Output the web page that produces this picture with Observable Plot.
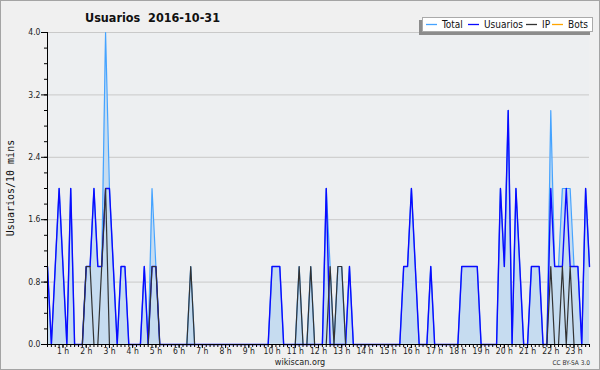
<!DOCTYPE html>
<html><head><meta charset="utf-8">
<script src="https://cdn.jsdelivr.net/npm/d3@7"></script>
<script src="https://cdn.jsdelivr.net/npm/@observablehq/plot@0.6"></script>
<style>
body{margin:0;background:#fff;}
#wrap{position:relative;width:600px;height:370px;background:#f0f0f0;overflow:hidden;}
#wrap svg{position:absolute;left:0;top:0;}
#border{position:absolute;left:0;top:0;width:600px;height:370px;box-sizing:border-box;border:1px solid #a4a4a4;pointer-events:none;}
</style>
</head><body>
<div id="wrap"><div id="plot"></div><div id="border"></div></div>
<script>
// 10-minute buckets (index 0 = 00:20 ... index 140 = 23:40)
const usuarios = [
 1,0,1,2,1,0,2,0,0,0,
 1,1,2,1,1,2,2,1,0,1,
 1,0,0,0,0,1,0,1,1,0,
 0,0,0,0,0,0,0,0,0,0,
 0,0,0,0,0,0,0,0,0,0,
 0,0,0,0,0,0,0,0,1,1,
 1,0,0,0,0,0,0,0,0,0,
 0,0,2,0,0,0,0,0,1,0,
 0,0,0,0,0,0,0,0,0,0,
 0,0,1,1,2,1,0,0,0,1,
 0,0,0,0,0,0,0,1,1,1,
 1,1,0,0,0,0,0,2,1,3,
 0,2,1,0,0,1,1,1,0,0,
 2,1,1,1,2,1,1,1,0,2,
 1];
const total = [
 1,0,1,2,1,0,2,0,0,0,
 1,1,2,1,1,4,2,1,0,1,
 1,0,0,0,0,1,0,2,1,0,
 0,0,0,0,0,0,0,1,0,0,
 0,0,0,0,0,0,0,0,0,0,
 0,0,0,0,0,0,0,0,1,1,
 1,0,0,0,0,1,0,0,1,0,
 0,0,2,1,0,1,1,0,1,0,
 0,0,0,0,0,0,0,0,0,0,
 0,0,1,1,2,1,0,0,0,1,
 0,0,0,0,0,0,0,1,1,1,
 1,1,0,0,0,0,0,2,1,3,
 0,2,1,0,0,1,1,1,0,0,
 3,1,1,2,2,2,1,1,0,2,
 1];
const ip = [
 0,0,0,0,0,0,0,0,0,0,
 1,1,0,0,1,2,0,0,0,0,
 0,0,0,0,0,0,0,1,1,0,
 0,0,0,0,0,0,0,1,0,0,
 0,0,0,0,0,0,0,0,0,0,
 0,0,0,0,0,0,0,0,0,0,
 0,0,0,0,0,1,0,0,1,0,
 0,0,0,1,0,1,1,0,0,0,
 0,0,0,0,0,0,0,0,0,0,
 0,0,0,0,0,0,0,0,0,0,
 0,0,0,0,0,0,0,0,0,0,
 0,0,0,0,0,0,0,0,0,0,
 0,0,0,0,0,0,0,0,0,0,
 1,0,0,1,0,1,0,0,0,0,
 0];
const hourLabels = ["1 h","2 h","3 h","4 h","5 h","6 h","7 h","8 h","9 h","10 h","11 h","12 h",
  "13 h","14 h","15 h","16 h","17 h","18 h","19 h","20 h","21 h","22 h","23 h"];
const yTicks = [0, 0.8, 1.6, 2.4, 3.2, 4.0];
const legendNames = ["Total","Usuarios","IP","Bots"];
const legendColors = ["#45a3ff","#0a0aff","#333333","#ffa500"];
const titleText = "Usuarios\u00a0\u00a02016-10-31";
const yLabel = "Usuarios/10 mins";

const rows = total.map((t, i) => ({i, total: t, usuarios: usuarios[i], ip: ip[i]}));
const hourIdx = hourLabels.map((_, k) => 6 * (k + 1) - 2);
const yMinor = d3.range(0, 4.001, 0.2);

const chart = Plot.plot({
  width: 600, height: 370,
  marginLeft: 47, marginRight: 11, marginTop: 32, marginBottom: 26,
  style: {background: "transparent", fontFamily: "'DejaVu Sans Condensed','DejaVu Sans',sans-serif", fontSize: "8.5px", color: "#222", overflow: "visible"},
  x: {domain: [0, 140], axis: null, label: null},
  y: {domain: [0, 4], axis: null, label: null},
  marks: [
    Plot.frame({fill: "#edeff1", stroke: null}),
    Plot.gridY(yTicks, {stroke: "#c9c9c9", strokeOpacity: 1}),
    Plot.areaY(rows, {x: "i", y: "total", fill: "#c6dcf0"}),
    Plot.lineY(rows, {x: "i", y: "total", stroke: legendColors[0], strokeWidth: 1.2}),
    Plot.lineY(rows, {x: "i", y: "usuarios", stroke: legendColors[1], strokeWidth: 1.4}),
    Plot.lineY(rows, {x: "i", y: "ip", stroke: legendColors[2], strokeWidth: 1.2}),
    Plot.ruleX([0], {stroke: "#000"}),
    Plot.ruleY([0], {stroke: "#000"}),
    Plot.axisY(yMinor, {tickSize: 3, tickFormat: () => "", stroke: "#000", label: null}),
    Plot.axisY(yTicks, {tickSize: 6, tickPadding: 1, tickFormat: d3.format(".1f"), stroke: "#000", label: null}),
    Plot.axisX(d3.range(0, 141), {tickSize: 3, tickFormat: () => "", stroke: "#000", label: null}),
    Plot.axisX(hourIdx, {tickSize: 4, tickPadding: -1, stroke: "#000", label: null,
      tickFormat: d => hourLabels[(d + 2) / 6 - 1]})
  ]
});
document.getElementById("plot").appendChild(chart);

// overlay texts and legend
const ov = d3.select("#wrap").append("svg").attr("width", 600).attr("height", 370)
  .style("font-family", "'DejaVu Sans Condensed','DejaVu Sans',sans-serif");
ov.append("text").attr("x", 85).attr("y", 21.5).attr("font-size", 12.5).attr("font-weight", "bold")
  .attr("fill", "#111").text(titleText);
ov.append("text").attr("transform", "translate(14,188) rotate(-90)").attr("text-anchor", "middle")
  .attr("font-family", "'DejaVu Sans Mono',monospace").attr("font-size", 10).attr("fill", "#111").text(yLabel);
ov.append("text").attr("x", 300).attr("y", 365).attr("text-anchor", "middle").attr("font-size", 9)
  .attr("fill", "#222").text("wikiscan.org");
ov.append("text").attr("x", 590).attr("y", 365).attr("text-anchor", "end").attr("font-size", 6.5)
  .attr("fill", "#333").text("CC BY-SA 3.0");
// legend box
ov.append("rect").attr("x", 419).attr("y", 20).attr("width", 171).attr("height", 15).attr("fill", "#8c8c8c");
ov.append("rect").attr("x", 422.5).attr("y", 17.5).attr("width", 170).attr("height", 14).attr("fill", "#fff")
  .attr("stroke", "#aaa");
const lineX = [426, 468, 526, 552];
const textX = [442, 484, 542, 568];
legendNames.forEach((n, k) => {
  ov.append("line").attr("x1", lineX[k]).attr("x2", lineX[k] + 11).attr("y1", 24.5).attr("y2", 24.5)
    .attr("stroke", legendColors[k]).attr("stroke-width", 1.3);
  ov.append("text").attr("x", textX[k]).attr("y", 28.3).attr("font-size", 10).attr("fill", "#111").text(n);
});
</script>
</body></html>
